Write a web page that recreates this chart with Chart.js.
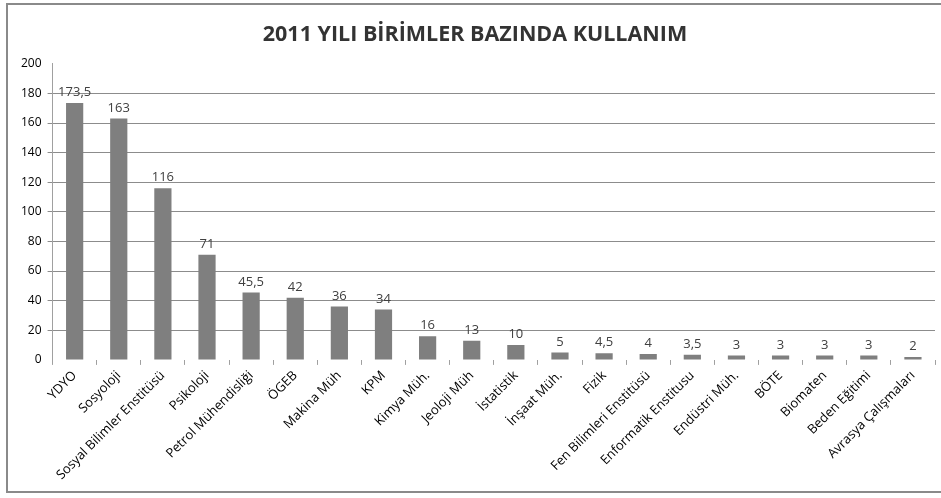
<!DOCTYPE html>
<html>
<head>
<meta charset="utf-8">
<script src="https://cdn.jsdelivr.net/npm/chart.js@4.4.1/dist/chart.umd.min.js"></script>
<style>
    body { margin: 0; background: #fff; }
    .frame {
        position: absolute; left: 6px; top: 3px; width: 960px; height: 486px;
        border: 2px solid #8a8a8a; border-right: none;
    }
    .wrap { position: absolute; left: 0; top: 0; width: 941px; height: 498px; }
</style>
</head>
<body>
<div class="frame"></div>
<div class="wrap"><canvas id="chart" width="941" height="498"></canvas></div>
<script>
const units = ['YDYO', 'Sosyoloji', 'Sosyal Bilimler Enstitüsü', 'Psikoloji', 'Petrol Mühendisliği', 'ÖGEB',
    'Makina Müh', 'KPM', 'Kimya Müh.', 'Jeoloji Müh', 'İstatistik', 'İnşaat Müh.', 'Fizik',
    'Fen Bilimleri Enstitüsü', 'Enformatik Enstitusu', 'Endüstri Müh.', 'BÖTE', 'Biomaten',
    'Beden Eğitimi', 'Avrasya Çalışmaları'];
const usage = [173.5, 163, 116, 71, 45.5, 42, 36, 34, 16, 13, 10, 5, 4.5, 4, 3.5, 3, 3, 3, 3, 2];
const yTicks = [0, 20, 40, 60, 80, 100, 120, 140, 160, 180, 200];

// values above the bars, Turkish decimal comma
const valueLabels = {
    id: 'valueLabels',
    afterDatasetsDraw(chart) {
        const c = chart.ctx;
        const meta = chart.getDatasetMeta(0);
        c.save();
        c.font = '13px "Open Sans"';
        c.fillStyle = '#404040';
        c.textAlign = 'center';
        c.textBaseline = 'bottom';
        meta.data.forEach((bar, i) => {
            c.fillText(String(usage[i]).replace('.', ','), bar.x, bar.y - 4);
        });
        c.restore();
    }
};

new Chart(document.getElementById('chart'), {
    type: 'bar',
    data: {
        labels: units,
        datasets: [{
            data: usage,
            backgroundColor: '#7f7f7f',
            categoryPercentage: 1,
            barPercentage: 0.39
        }]
    },
    options: {
        responsive: false,
        animation: false,
        layout: { padding: { left: 15, right: 6, top: 12, bottom: 12 } },
        plugins: {
            legend: { display: false },
            tooltip: { enabled: false },
            title: {
                display: true,
                text: '2011 YILI BİRİMLER BAZINDA KULLANIM',
                color: '#333',
                font: { family: '"Open Sans"', size: 21.5, weight: 'bold' },
                padding: { top: 10, bottom: 16 }
            }
        },
        scales: {
            x: {
                grid: { drawOnChartArea: false, color: '#a0a0a0', tickLength: 5 },
                border: { display: false },
                ticks: {
                    color: '#000',
                    font: { family: '"Open Sans"', size: 13 },
                    minRotation: 45, maxRotation: 45,
                    autoSkip: false
                }
            },
            y: {
                min: 0, max: 200,
                afterBuildTicks: axis => { axis.ticks = yTicks.map(v => ({ value: v })); },
                grid: {
                    color: ctx => (ctx.tick && (ctx.tick.value === 200 || ctx.tick.value === 0)) ? 'rgba(0,0,0,0)' : '#8c8c8c',
                    tickLength: 5
                },
                border: { display: true, color: '#a0a0a0' },
                ticks: { color: '#000', font: { family: '"Open Sans"', size: 12 }, padding: 6 }
            }
        }
    },
    plugins: [valueLabels]
});
</script>
</body>
</html>
